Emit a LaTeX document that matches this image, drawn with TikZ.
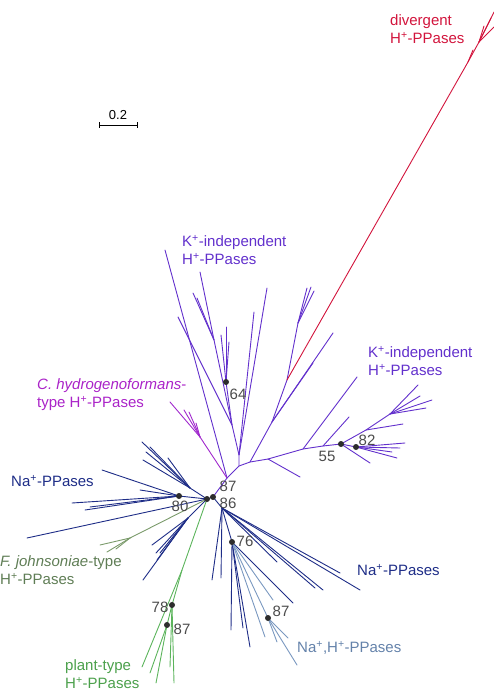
\documentclass[tikz,border=0pt]{standalone}
\usepackage{fontspec}
\setmainfont{Liberation Sans}
\definecolor{purp}{RGB}{98,48,204}
\definecolor{magc}{RGB}{160,40,205}
\definecolor{magt}{RGB}{170,35,200}
\definecolor{navy}{RGB}{30,45,135}
\definecolor{redc}{RGB}{210,20,60}
\definecolor{olivec}{RGB}{122,154,106}
\definecolor{olivet}{RGB}{95,125,85}
\definecolor{plantc}{RGB}{92,180,92}
\definecolor{plantt}{RGB}{75,160,75}
\definecolor{steelc}{RGB}{122,152,192}
\definecolor{steelt}{RGB}{100,130,170}
\definecolor{numc}{RGB}{75,75,75}
\definecolor{dotc}{RGB}{45,45,45}
\begin{document}
\begin{tikzpicture}[x=1pt,y=-1pt,
  br/.style={line width=0.9pt,line cap=round},
  pur/.style={br,draw=purp},
  mag/.style={br,draw=magc},
  nav/.style={br,draw=navy},
  rd/.style={br,draw=redc},
  olv/.style={br,draw=olivec},
  plt/.style={br,draw=plantc},
  stl/.style={br,draw=steelc},
  dot/.style={circle,fill=dotc,inner sep=0pt,minimum size=6pt},
  bs/.style={text=numc,font=\fontsize{15}{15}\selectfont,inner sep=0pt},
  lab/.style={font=\fontsize{15}{18}\selectfont,align=left,anchor=west,inner sep=0pt}]
\useasboundingbox (0,0) rectangle (494,692);

% ---- internal nodes of the tree ----
\coordinate (c86) at (213,497);
\coordinate (c87) at (207,499);
\coordinate (c80) at (179,496);
\coordinate (pA) at (227,478);
\coordinate (J1) at (239,466);
\coordinate (J2) at (239,455);
\coordinate (J3) at (232,425);
\coordinate (n64) at (226,382);
\coordinate (J5) at (214,340);
\coordinate (mC) at (200,437);
\coordinate (R1) at (250,462);
\coordinate (R2) at (268,459);
\coordinate (R3) at (303,449);
\coordinate (R4) at (323,446);
\coordinate (n55) at (341,444);
\coordinate (n82) at (356,447);
\coordinate (K1) at (366,430);
\coordinate (K2) at (390,414);
\coordinate (U1) at (272,422);
\coordinate (U2) at (287,380);
\coordinate (U3) at (298,323);
\coordinate (Rd1) at (468,62);
\coordinate (Rd2) at (479,42);
\coordinate (UL) at (190,488);
\coordinate (LL) at (188,518);
\coordinate (FJ) at (130,538);
\coordinate (G1) at (182,570);
\coordinate (n78) at (172,605);
\coordinate (n87g) at (167,625);
\coordinate (B1) at (222,508);
\coordinate (n76) at (232,542);
\coordinate (n87s) at (268,618);

% ---- H+-PPases (purple) ----
\draw[pur] (c86) -- (pA) -- (J1) -- (J2) -- (J3) -- (n64);
\foreach \p in {(221,335),(226,327),(229,342)} \draw[pur] (n64) -- \p;
\draw[pur] (J3) -- (J5) -- (200,272);
\foreach \p in {(193,293),(197,298)} \draw[pur] (J5) -- \p;
\draw[pur] (J3) -- (178,317);
\draw[pur] (pA) -- (165,250);
\foreach \p in {(267,288),(254,312)} \draw[pur] (J2) -- \p;
\draw[pur] (J1) -- (R1) -- (R2) -- (R3) -- (R4) -- (n55) -- (n82);
\draw[pur] (R2) -- (300,477);
\draw[pur] (R3) -- (357,377);
\draw[pur] (R4) -- (349,417);
\draw[pur] (n55) -- (370,463);
\draw[pur] (n55) -- (K1) -- (K2);
\draw[pur] (K1) -- (403,424);
\foreach \p in {(418,385),(432,400),(426,408),(420,396)} \draw[pur] (K2) -- \p;
\foreach \p in {(405,443),(397,458),(392,452),(400,448)} \draw[pur] (n82) -- \p;
\draw[pur] (R1) -- (U1) -- (U2) -- (U3);
\foreach \p in {(313,363),(333,333)} \draw[pur] (U1) -- \p;
\foreach \p in {(307,288),(311,287),(314,291)} \draw[pur] (U3) -- \p;

% ---- C. hydrogenoformans-type ----
\draw[mag] (pA) -- (mC);
\foreach \p in {(170,402),(184,410),(189,412),(196,423)} \draw[mag] (mC) -- \p;

% ---- divergent H+-PPases ----
\draw[rd] (U2) -- (Rd1) -- (Rd2);
\draw[rd] (Rd1) -- (473,50);
\foreach \p in {(484,26),(491,18),(494,27),(494,12)} \draw[rd] (Rd2) -- \p;

% ---- Na+-PPases, left ----
\draw[nav] (c86) -- (c87) -- (c80);
\foreach \p in {(102,470),(72,503),(85,510),(90,507),(140,490)} \draw[nav] (c80) -- \p;
\draw[nav] (c87) -- (27,538);
\draw[nav] (c87) -- (UL);
\foreach \p in {(142,442),(150,447),(143,460),(168,458),(146,452)} \draw[nav] (UL) -- \p;
\draw[nav] (c87) -- (LL);
\foreach \p in {(143,580),(152,545),(156,553),(160,553),(157,560)} \draw[nav] (LL) -- \p;

% ---- F. johnsoniae-type ----
\draw[olv] (c87) -- (FJ);
\foreach \p in {(100,545),(107,552),(116,549)} \draw[olv] (FJ) -- \p;

% ---- plant-type ----
\draw[plt] (c87) -- (G1) -- (n78) -- (n87g);
\draw[plt] (G1) -- (142,667);
\foreach \p in {(150,673),(156,683)} \draw[plt] (n87g) -- \p;
\foreach \p in {(170,667),(174,683)} \draw[plt] (n78) -- \p;

% ---- Na+-PPases, right ----
\draw[nav] (c86) -- (B1) -- (n76);
\foreach \p in {(340,573),(360,590),(323,590),(315,588),(277,562),(212,580),(221,578)} \draw[nav] (B1) -- \p;
\foreach \p in {(231,630),(243,628),(250,647),(293,603)} \draw[nav] (n76) -- \p;

% ---- Na+,H+-PPases ----
\draw[stl] (n76) -- (n87s);
\foreach \p in {(273,600),(265,637)} \draw[stl] (n76) -- \p;
\foreach \p in {(288,638),(297,665),(277,642)} \draw[stl] (n87s) -- \p;

% ---- supported nodes ----
\foreach \c/\n in {n64/d64,n55/d55,n82/d82,c87/d87a,c80/d80,c86/d86,n76/d76,n87s/d87b,n78/d78,n87g/d87c}
  \node[dot] (\n) at (\c) {};

\node[bs] (b64) at (238,394) {64};
\node[bs] (b55) at (327,456) {55};
\node[bs] (b82) at (367,440) {82};
\node[bs] (b87a) at (228,486) {87};
\node[bs] (b80) at (180,506) {80};
\node[bs] (b86) at (228,503) {86};
\node[bs] (b76) at (245,541) {76};
\node[bs] (b87b) at (281,611) {87};
\node[bs] (b78) at (160,607) {78};
\node[bs] (b87c) at (182,629) {87};

% ---- scale bar ----
\coordinate (sbl) at (99,125);
\coordinate (sbr) at (137,125);
\draw[line width=0.9pt] (sbl) -- (sbr);
\draw[line width=0.9pt] ([yshift=-3pt]sbl) -- ([yshift=3pt]sbl);
\draw[line width=0.9pt] ([yshift=-3pt]sbr) -- ([yshift=3pt]sbr);
\node[font=\fontsize{13}{13}\selectfont,inner sep=0pt] (sbt) at (118,115) {0.2};

% ---- clade labels ----
\node[lab,text=redc] (Ldiv) at (390,29) {divergent\\H\textsuperscript{+}-PPases};
\node[lab,text=purp] (Lk1) at (182,250) {K\textsuperscript{+}-independent\\H\textsuperscript{+}-PPases};
\node[lab,text=purp] (Lk2) at (368,361) {K\textsuperscript{+}-independent\\H\textsuperscript{+}-PPases};
\node[lab,text=magt] (Lch) at (37,395) {\textit{C. hydrogenoformans}-\\type H\textsuperscript{+}-PPases};
\node[lab,text=navy] (Lna1) at (11,481) {Na\textsuperscript{+}-PPases};
\node[lab,text=olivet] (Lfj) at (0,570) {\textit{F. johnsoniae}-type\\H\textsuperscript{+}-PPases};
\node[lab,text=plantt] (Lpl) at (65,674) {plant-type\\H\textsuperscript{+}-PPases};
\node[lab,text=navy] (Lna2) at (357,570) {Na\textsuperscript{+}-PPases};
\node[lab,text=steelt] (Lnh) at (297,648) {Na\textsuperscript{+},H\textsuperscript{+}-PPases};
\end{tikzpicture}
\end{document}
